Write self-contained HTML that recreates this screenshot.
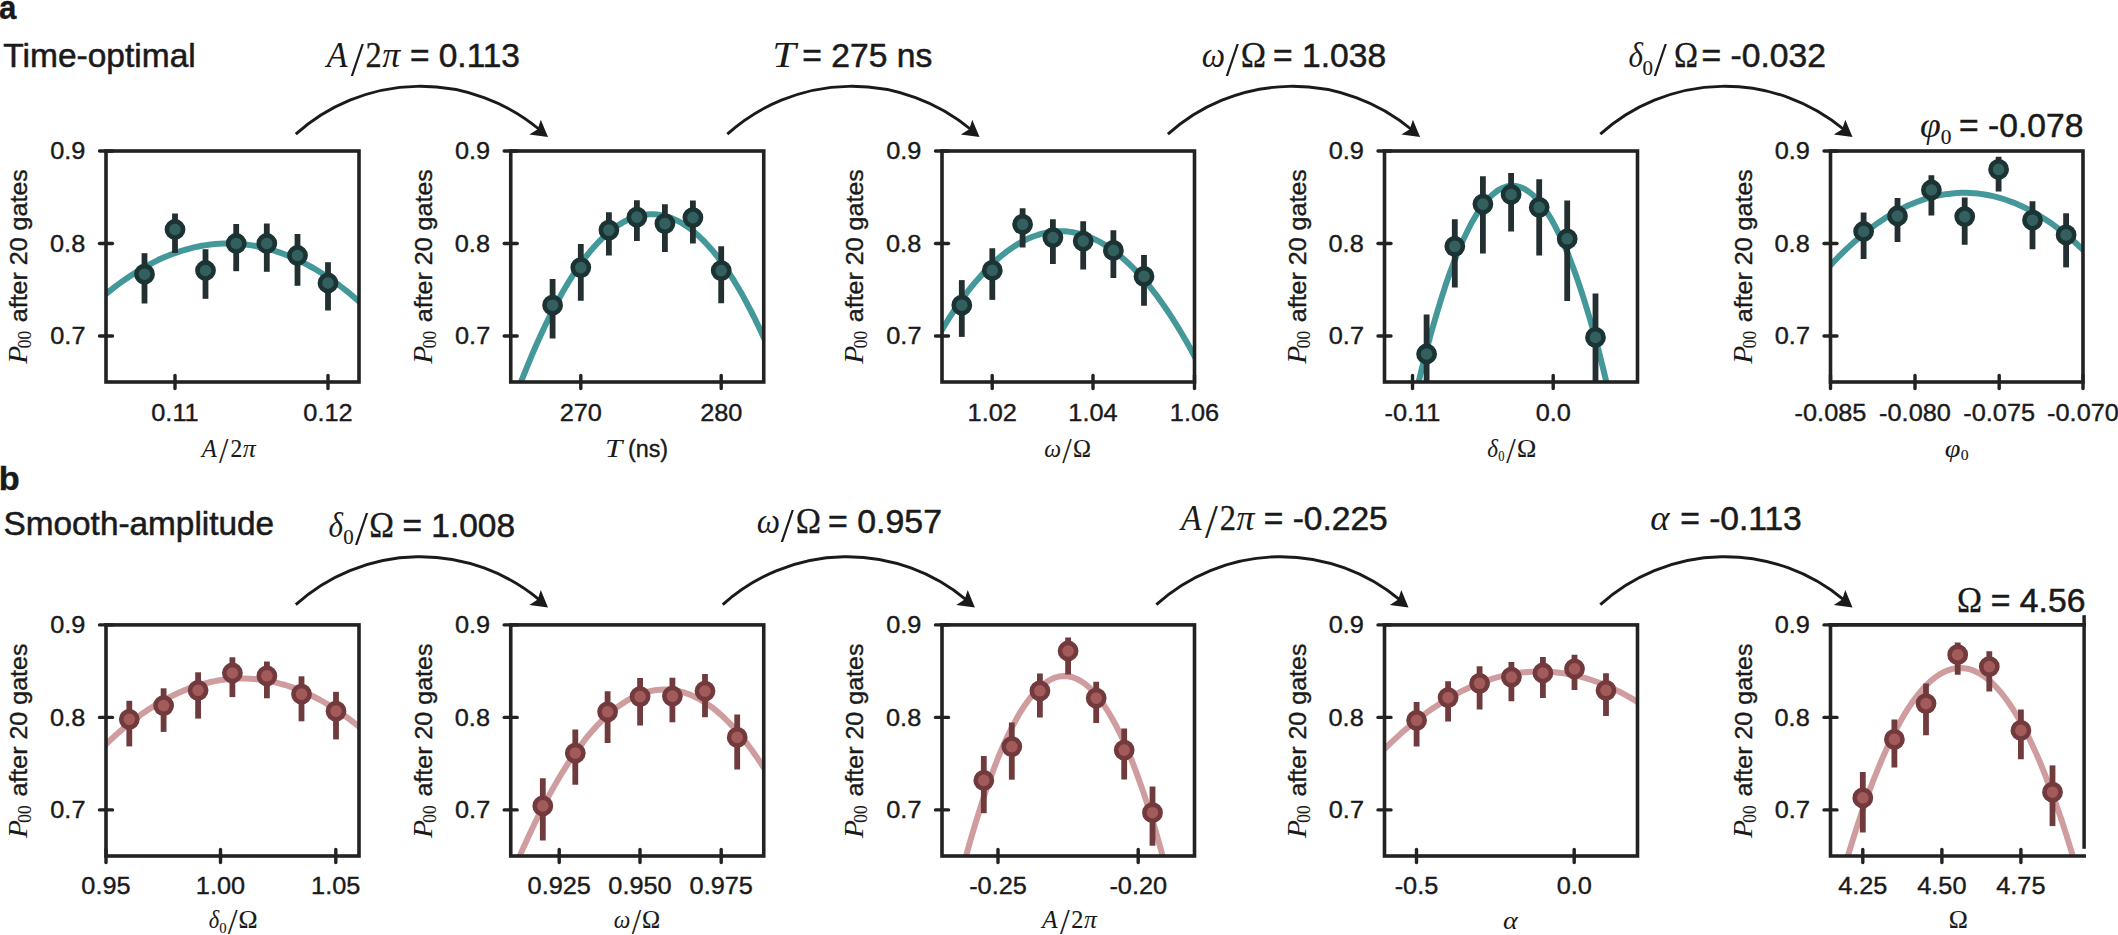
<!DOCTYPE html>
<html><head><meta charset="utf-8"><title>Figure</title>
<style>
html,body{margin:0;padding:0;background:#fff;}
svg{display:block;}
.s{font-family:"Liberation Sans", sans-serif;fill:#1a1a1a;stroke:#1a1a1a;}
.m{font-family:"Liberation Serif", serif;fill:#1a1a1a;stroke:#1a1a1a;}
.i{font-style:italic;}
.b{font-weight:bold;}
</style></head>
<body>
<svg width="2118" height="935" viewBox="0 0 2118 935">
<rect x="0" y="0" width="2118" height="935" fill="#ffffff"/>
<clipPath id="cp0"><rect x="106.00" y="151.00" width="253.00" height="231.00"/></clipPath>
<g clip-path="url(#cp0)">
<path d="M101.0 298.2 L105.4 294.5 L109.8 290.9 L114.2 287.4 L118.5 284.1 L122.9 280.9 L127.3 277.9 L131.7 275.0 L136.1 272.2 L140.4 269.5 L144.8 267.0 L149.2 264.6 L153.6 262.3 L158.0 260.1 L162.4 258.1 L166.8 256.2 L171.1 254.5 L175.5 252.9 L179.9 251.4 L184.3 250.0 L188.7 248.8 L193.1 247.7 L197.4 246.7 L201.8 245.8 L206.2 245.1 L210.6 244.5 L215.0 244.1 L219.3 243.8 L223.7 243.6 L228.1 243.5 L232.5 243.6 L236.9 243.8 L241.3 244.1 L245.7 244.5 L250.0 245.1 L254.4 245.8 L258.8 246.7 L263.2 247.7 L267.6 248.8 L271.9 250.0 L276.3 251.4 L280.7 252.9 L285.1 254.5 L289.5 256.3 L293.9 258.1 L298.2 260.2 L302.6 262.3 L307.0 264.6 L311.4 267.0 L315.8 269.5 L320.2 272.2 L324.6 275.0 L328.9 277.9 L333.3 281.0 L337.7 284.1 L342.1 287.5 L346.5 290.9 L350.9 294.5 L355.2 298.2 L359.6 302.0 L364.0 306.0" fill="none" stroke="#45989a" stroke-width="6" stroke-linejoin="round"/>
<line x1="144.5" y1="253.2" x2="144.5" y2="303.5" stroke="#232f30" stroke-width="5.8"/>
<line x1="175.0" y1="213.5" x2="175.0" y2="253.0" stroke="#232f30" stroke-width="5.8"/>
<line x1="205.5" y1="249.2" x2="205.5" y2="298.8" stroke="#232f30" stroke-width="5.8"/>
<line x1="236.2" y1="224.0" x2="236.2" y2="271.2" stroke="#232f30" stroke-width="5.8"/>
<line x1="266.8" y1="223.5" x2="266.8" y2="271.8" stroke="#232f30" stroke-width="5.8"/>
<line x1="297.5" y1="234.0" x2="297.5" y2="285.8" stroke="#232f30" stroke-width="5.8"/>
<line x1="328.0" y1="262.2" x2="328.0" y2="310.5" stroke="#232f30" stroke-width="5.8"/>
<circle cx="144.5" cy="274.2" r="8.1" fill="#33605f" stroke="#1c3333" stroke-width="4.6"/>
<circle cx="175.0" cy="229.5" r="8.1" fill="#33605f" stroke="#1c3333" stroke-width="4.6"/>
<circle cx="205.5" cy="270.5" r="8.1" fill="#33605f" stroke="#1c3333" stroke-width="4.6"/>
<circle cx="236.2" cy="243.5" r="8.1" fill="#33605f" stroke="#1c3333" stroke-width="4.6"/>
<circle cx="266.8" cy="243.5" r="8.1" fill="#33605f" stroke="#1c3333" stroke-width="4.6"/>
<circle cx="297.5" cy="255.5" r="8.1" fill="#33605f" stroke="#1c3333" stroke-width="4.6"/>
<circle cx="328.0" cy="283.0" r="8.1" fill="#33605f" stroke="#1c3333" stroke-width="4.6"/>
</g>
<rect x="106.00" y="151.00" width="253.00" height="231.00" fill="none" stroke="#222222" stroke-width="3.6"/>
<line x1="99.5" y1="151.0" x2="112.5" y2="151.0" stroke="#222222" stroke-width="3.4" stroke-linecap="round"/>
<text class="s" font-size="24" stroke-width="0.38" transform="translate(50.14 159.40) scale(1.0550 1)">0.9</text>
<line x1="99.5" y1="243.5" x2="112.5" y2="243.5" stroke="#222222" stroke-width="3.4" stroke-linecap="round"/>
<text class="s" font-size="24" stroke-width="0.38" transform="translate(50.02 251.90) scale(1.0550 1)">0.8</text>
<line x1="99.5" y1="336.0" x2="112.5" y2="336.0" stroke="#222222" stroke-width="3.4" stroke-linecap="round"/>
<text class="s" font-size="24" stroke-width="0.38" transform="translate(50.27 344.40) scale(1.0550 1)">0.7</text>
<line x1="175.0" y1="375.5" x2="175.0" y2="388.5" stroke="#222222" stroke-width="3.4" stroke-linecap="round"/>
<text class="s" font-size="24" stroke-width="0.38" transform="translate(151.30 420.80) scale(1.0550 1)">0.11</text>
<line x1="328.0" y1="375.5" x2="328.0" y2="388.5" stroke="#222222" stroke-width="3.4" stroke-linecap="round"/>
<text class="s" font-size="24" stroke-width="0.38" transform="translate(303.36 420.80) scale(1.0550 1)">0.12</text>
<text class="m i" font-size="27.3" stroke-width="0.00" transform="translate(27.00 363.65) rotate(-90) scale(1.0865 1)">P</text>
<text class="m" font-size="18" stroke-width="0.14" transform="translate(31.30 348.30) rotate(-90) scale(0.9662 1)">00</text>
<text class="s" font-size="24" stroke-width="0.38" transform="translate(27.00 322.20) rotate(-90) scale(1.0430 1)">after 20 gates</text>
<clipPath id="cp1"><rect x="510.75" y="151.00" width="253.00" height="231.00"/></clipPath>
<g clip-path="url(#cp1)">
<path d="M505.8 423.4 L510.1 411.0 L514.5 399.0 L518.9 387.4 L523.3 376.1 L527.7 365.3 L532.0 354.8 L536.4 344.7 L540.8 335.0 L545.2 325.6 L549.6 316.6 L554.0 308.0 L558.4 299.8 L562.7 292.0 L567.1 284.5 L571.5 277.4 L575.9 270.7 L580.3 264.3 L584.6 258.4 L589.0 252.8 L593.4 247.6 L597.8 242.8 L602.2 238.3 L606.6 234.2 L611.0 230.6 L615.3 227.2 L619.7 224.3 L624.1 221.7 L628.5 219.5 L632.9 217.7 L637.2 216.3 L641.6 215.2 L646.0 214.6 L650.4 214.3 L654.8 214.3 L659.2 214.8 L663.5 215.6 L667.9 216.8 L672.3 218.4 L676.7 220.4 L681.1 222.7 L685.5 225.4 L689.9 228.5 L694.2 232.0 L698.6 235.9 L703.0 240.1 L707.4 244.7 L711.8 249.7 L716.1 255.0 L720.5 260.8 L724.9 266.9 L729.3 273.4 L733.7 280.2 L738.1 287.5 L742.5 295.1 L746.8 303.1 L751.2 311.5 L755.6 320.2 L760.0 329.4 L764.4 338.9 L768.8 348.7" fill="none" stroke="#45989a" stroke-width="6" stroke-linejoin="round"/>
<line x1="552.6" y1="279.1" x2="552.6" y2="338.4" stroke="#232f30" stroke-width="5.8"/>
<line x1="580.8" y1="244.1" x2="580.8" y2="300.7" stroke="#232f30" stroke-width="5.8"/>
<line x1="608.9" y1="212.3" x2="608.9" y2="255.6" stroke="#232f30" stroke-width="5.8"/>
<line x1="636.9" y1="200.3" x2="636.9" y2="241.1" stroke="#232f30" stroke-width="5.8"/>
<line x1="664.9" y1="204.3" x2="664.9" y2="251.9" stroke="#232f30" stroke-width="5.8"/>
<line x1="692.9" y1="200.6" x2="692.9" y2="243.6" stroke="#232f30" stroke-width="5.8"/>
<line x1="721.2" y1="246.3" x2="721.2" y2="303.2" stroke="#232f30" stroke-width="5.8"/>
<circle cx="552.6" cy="305.2" r="8.1" fill="#33605f" stroke="#1c3333" stroke-width="4.6"/>
<circle cx="580.8" cy="267.6" r="8.1" fill="#33605f" stroke="#1c3333" stroke-width="4.6"/>
<circle cx="608.9" cy="230.1" r="8.1" fill="#33605f" stroke="#1c3333" stroke-width="4.6"/>
<circle cx="636.9" cy="217.1" r="8.1" fill="#33605f" stroke="#1c3333" stroke-width="4.6"/>
<circle cx="664.9" cy="223.6" r="8.1" fill="#33605f" stroke="#1c3333" stroke-width="4.6"/>
<circle cx="692.9" cy="217.6" r="8.1" fill="#33605f" stroke="#1c3333" stroke-width="4.6"/>
<circle cx="721.2" cy="270.6" r="8.1" fill="#33605f" stroke="#1c3333" stroke-width="4.6"/>
</g>
<rect x="510.75" y="151.00" width="253.00" height="231.00" fill="none" stroke="#222222" stroke-width="3.6"/>
<line x1="504.2" y1="151.0" x2="517.2" y2="151.0" stroke="#222222" stroke-width="3.4" stroke-linecap="round"/>
<text class="s" font-size="24" stroke-width="0.38" transform="translate(454.89 159.40) scale(1.0550 1)">0.9</text>
<line x1="504.2" y1="243.5" x2="517.2" y2="243.5" stroke="#222222" stroke-width="3.4" stroke-linecap="round"/>
<text class="s" font-size="24" stroke-width="0.38" transform="translate(454.77 251.90) scale(1.0550 1)">0.8</text>
<line x1="504.2" y1="336.0" x2="517.2" y2="336.0" stroke="#222222" stroke-width="3.4" stroke-linecap="round"/>
<text class="s" font-size="24" stroke-width="0.38" transform="translate(455.02 344.40) scale(1.0550 1)">0.7</text>
<line x1="580.8" y1="375.5" x2="580.8" y2="388.5" stroke="#222222" stroke-width="3.4" stroke-linecap="round"/>
<text class="s" font-size="24" stroke-width="0.38" transform="translate(559.63 420.80) scale(1.0550 1)">270</text>
<line x1="721.2" y1="375.5" x2="721.2" y2="388.5" stroke="#222222" stroke-width="3.4" stroke-linecap="round"/>
<text class="s" font-size="24" stroke-width="0.38" transform="translate(700.13 420.80) scale(1.0550 1)">280</text>
<text class="m i" font-size="27.3" stroke-width="0.00" transform="translate(431.75 363.65) rotate(-90) scale(1.0865 1)">P</text>
<text class="m" font-size="18" stroke-width="0.14" transform="translate(436.05 348.30) rotate(-90) scale(0.9662 1)">00</text>
<text class="s" font-size="24" stroke-width="0.38" transform="translate(431.75 322.20) rotate(-90) scale(1.0430 1)">after 20 gates</text>
<clipPath id="cp2"><rect x="942.00" y="151.00" width="252.50" height="231.00"/></clipPath>
<g clip-path="url(#cp2)">
<path d="M937.0 338.1 L941.4 330.7 L945.8 323.5 L950.1 316.6 L954.5 310.0 L958.9 303.6 L963.2 297.6 L967.6 291.7 L972.0 286.2 L976.4 280.9 L980.8 275.9 L985.1 271.1 L989.5 266.6 L993.9 262.4 L998.2 258.5 L1002.6 254.8 L1007.0 251.4 L1011.4 248.2 L1015.8 245.4 L1020.1 242.7 L1024.5 240.4 L1028.9 238.3 L1033.2 236.5 L1037.6 235.0 L1042.0 233.7 L1046.4 232.7 L1050.8 231.9 L1055.1 231.5 L1059.5 231.3 L1063.9 231.3 L1068.2 231.6 L1072.6 232.2 L1077.0 233.1 L1081.4 234.2 L1085.8 235.6 L1090.1 237.3 L1094.5 239.2 L1098.9 241.4 L1103.2 243.9 L1107.6 246.6 L1112.0 249.6 L1116.4 252.9 L1120.8 256.4 L1125.1 260.2 L1129.5 264.3 L1133.9 268.6 L1138.2 273.2 L1142.6 278.1 L1147.0 283.2 L1151.4 288.7 L1155.8 294.3 L1160.1 300.3 L1164.5 306.5 L1168.9 313.0 L1173.2 319.7 L1177.6 326.7 L1182.0 334.0 L1186.4 341.5 L1190.8 349.3 L1195.1 357.4 L1199.5 365.8" fill="none" stroke="#45989a" stroke-width="6" stroke-linejoin="round"/>
<line x1="961.8" y1="280.1" x2="961.8" y2="336.9" stroke="#232f30" stroke-width="5.8"/>
<line x1="992.3" y1="248.3" x2="992.3" y2="299.9" stroke="#232f30" stroke-width="5.8"/>
<line x1="1022.6" y1="208.3" x2="1022.6" y2="247.6" stroke="#232f30" stroke-width="5.8"/>
<line x1="1052.9" y1="219.3" x2="1052.9" y2="264.1" stroke="#232f30" stroke-width="5.8"/>
<line x1="1083.2" y1="221.3" x2="1083.2" y2="269.6" stroke="#232f30" stroke-width="5.8"/>
<line x1="1113.4" y1="230.3" x2="1113.4" y2="278.1" stroke="#232f30" stroke-width="5.8"/>
<line x1="1144.0" y1="254.9" x2="1144.0" y2="305.7" stroke="#232f30" stroke-width="5.8"/>
<circle cx="961.8" cy="305.2" r="8.1" fill="#33605f" stroke="#1c3333" stroke-width="4.6"/>
<circle cx="992.3" cy="270.4" r="8.1" fill="#33605f" stroke="#1c3333" stroke-width="4.6"/>
<circle cx="1022.6" cy="224.3" r="8.1" fill="#33605f" stroke="#1c3333" stroke-width="4.6"/>
<circle cx="1052.9" cy="237.6" r="8.1" fill="#33605f" stroke="#1c3333" stroke-width="4.6"/>
<circle cx="1083.2" cy="241.1" r="8.1" fill="#33605f" stroke="#1c3333" stroke-width="4.6"/>
<circle cx="1113.4" cy="250.4" r="8.1" fill="#33605f" stroke="#1c3333" stroke-width="4.6"/>
<circle cx="1144.0" cy="276.4" r="8.1" fill="#33605f" stroke="#1c3333" stroke-width="4.6"/>
</g>
<rect x="942.00" y="151.00" width="252.50" height="231.00" fill="none" stroke="#222222" stroke-width="3.6"/>
<line x1="935.5" y1="151.0" x2="948.5" y2="151.0" stroke="#222222" stroke-width="3.4" stroke-linecap="round"/>
<text class="s" font-size="24" stroke-width="0.38" transform="translate(886.14 159.40) scale(1.0550 1)">0.9</text>
<line x1="935.5" y1="243.5" x2="948.5" y2="243.5" stroke="#222222" stroke-width="3.4" stroke-linecap="round"/>
<text class="s" font-size="24" stroke-width="0.38" transform="translate(886.02 251.90) scale(1.0550 1)">0.8</text>
<line x1="935.5" y1="336.0" x2="948.5" y2="336.0" stroke="#222222" stroke-width="3.4" stroke-linecap="round"/>
<text class="s" font-size="24" stroke-width="0.38" transform="translate(886.27 344.40) scale(1.0550 1)">0.7</text>
<line x1="992.2" y1="375.5" x2="992.2" y2="388.5" stroke="#222222" stroke-width="3.4" stroke-linecap="round"/>
<text class="s" font-size="24" stroke-width="0.38" transform="translate(967.61 420.80) scale(1.0550 1)">1.02</text>
<line x1="1093.0" y1="375.5" x2="1093.0" y2="388.5" stroke="#222222" stroke-width="3.4" stroke-linecap="round"/>
<text class="s" font-size="24" stroke-width="0.38" transform="translate(1068.36 420.80) scale(1.0550 1)">1.04</text>
<line x1="1194.5" y1="375.5" x2="1194.5" y2="388.5" stroke="#222222" stroke-width="3.4" stroke-linecap="round"/>
<text class="s" font-size="24" stroke-width="0.38" transform="translate(1169.86 420.80) scale(1.0550 1)">1.06</text>
<text class="m i" font-size="27.3" stroke-width="0.00" transform="translate(863.00 363.65) rotate(-90) scale(1.0865 1)">P</text>
<text class="m" font-size="18" stroke-width="0.14" transform="translate(867.30 348.30) rotate(-90) scale(0.9662 1)">00</text>
<text class="s" font-size="24" stroke-width="0.38" transform="translate(863.00 322.20) rotate(-90) scale(1.0430 1)">after 20 gates</text>
<clipPath id="cp3"><rect x="1384.50" y="151.00" width="253.00" height="231.00"/></clipPath>
<g clip-path="url(#cp3)">
<path d="M1379.5 579.2 L1383.9 553.6 L1388.3 529.0 L1392.7 505.2 L1397.0 482.3 L1401.4 460.2 L1405.8 438.9 L1410.2 418.6 L1414.6 399.1 L1419.0 380.4 L1423.3 362.6 L1427.7 345.6 L1432.1 329.5 L1436.5 314.3 L1440.9 299.9 L1445.2 286.3 L1449.6 273.6 L1454.0 261.8 L1458.4 250.8 L1462.8 240.7 L1467.2 231.5 L1471.5 223.0 L1475.9 215.5 L1480.3 208.8 L1484.7 202.9 L1489.1 197.9 L1493.5 193.8 L1497.8 190.5 L1502.2 188.1 L1506.6 186.5 L1511.0 185.8 L1515.4 185.9 L1519.8 186.9 L1524.2 188.8 L1528.5 191.5 L1532.9 195.0 L1537.3 199.4 L1541.7 204.7 L1546.1 210.8 L1550.5 217.8 L1554.8 225.6 L1559.2 234.3 L1563.6 243.8 L1568.0 254.2 L1572.4 265.5 L1576.8 277.6 L1581.1 290.5 L1585.5 304.3 L1589.9 319.0 L1594.3 334.5 L1598.7 350.9 L1603.0 368.1 L1607.4 386.2 L1611.8 405.1 L1616.2 424.9 L1620.6 445.6 L1625.0 467.1 L1629.3 489.4 L1633.7 512.6 L1638.1 536.7 L1642.5 561.6" fill="none" stroke="#45989a" stroke-width="6" stroke-linejoin="round"/>
<line x1="1426.6" y1="314.4" x2="1426.6" y2="400.3" stroke="#232f30" stroke-width="5.8"/>
<line x1="1454.8" y1="219.3" x2="1454.8" y2="287.6" stroke="#232f30" stroke-width="5.8"/>
<line x1="1482.9" y1="176.3" x2="1482.9" y2="253.4" stroke="#232f30" stroke-width="5.8"/>
<line x1="1511.1" y1="173.0" x2="1511.1" y2="231.6" stroke="#232f30" stroke-width="5.8"/>
<line x1="1539.2" y1="179.3" x2="1539.2" y2="255.6" stroke="#232f30" stroke-width="5.8"/>
<line x1="1567.2" y1="200.6" x2="1567.2" y2="300.9" stroke="#232f30" stroke-width="5.8"/>
<line x1="1595.5" y1="293.4" x2="1595.5" y2="400.3" stroke="#232f30" stroke-width="5.8"/>
<circle cx="1426.6" cy="354.0" r="8.1" fill="#33605f" stroke="#1c3333" stroke-width="4.6"/>
<circle cx="1454.8" cy="246.3" r="8.1" fill="#33605f" stroke="#1c3333" stroke-width="4.6"/>
<circle cx="1482.9" cy="204.1" r="8.1" fill="#33605f" stroke="#1c3333" stroke-width="4.6"/>
<circle cx="1511.1" cy="194.5" r="8.1" fill="#33605f" stroke="#1c3333" stroke-width="4.6"/>
<circle cx="1539.2" cy="207.3" r="8.1" fill="#33605f" stroke="#1c3333" stroke-width="4.6"/>
<circle cx="1567.2" cy="238.8" r="8.1" fill="#33605f" stroke="#1c3333" stroke-width="4.6"/>
<circle cx="1595.5" cy="337.4" r="8.1" fill="#33605f" stroke="#1c3333" stroke-width="4.6"/>
</g>
<rect x="1384.50" y="151.00" width="253.00" height="231.00" fill="none" stroke="#222222" stroke-width="3.6"/>
<line x1="1378.0" y1="151.0" x2="1391.0" y2="151.0" stroke="#222222" stroke-width="3.4" stroke-linecap="round"/>
<text class="s" font-size="24" stroke-width="0.38" transform="translate(1328.64 159.40) scale(1.0550 1)">0.9</text>
<line x1="1378.0" y1="243.5" x2="1391.0" y2="243.5" stroke="#222222" stroke-width="3.4" stroke-linecap="round"/>
<text class="s" font-size="24" stroke-width="0.38" transform="translate(1328.52 251.90) scale(1.0550 1)">0.8</text>
<line x1="1378.0" y1="336.0" x2="1391.0" y2="336.0" stroke="#222222" stroke-width="3.4" stroke-linecap="round"/>
<text class="s" font-size="24" stroke-width="0.38" transform="translate(1328.77 344.40) scale(1.0550 1)">0.7</text>
<line x1="1412.5" y1="375.5" x2="1412.5" y2="388.5" stroke="#222222" stroke-width="3.4" stroke-linecap="round"/>
<text class="s" font-size="24" stroke-width="0.38" transform="translate(1384.58 420.80) scale(1.0550 1)">-0.11</text>
<line x1="1553.2" y1="375.5" x2="1553.2" y2="388.5" stroke="#222222" stroke-width="3.4" stroke-linecap="round"/>
<text class="s" font-size="24" stroke-width="0.38" transform="translate(1535.65 420.80) scale(1.0550 1)">0.0</text>
<text class="m i" font-size="27.3" stroke-width="0.00" transform="translate(1305.50 363.65) rotate(-90) scale(1.0865 1)">P</text>
<text class="m" font-size="18" stroke-width="0.14" transform="translate(1309.80 348.30) rotate(-90) scale(0.9662 1)">00</text>
<text class="s" font-size="24" stroke-width="0.38" transform="translate(1305.50 322.20) rotate(-90) scale(1.0430 1)">after 20 gates</text>
<clipPath id="cp4"><rect x="1830.50" y="151.00" width="252.50" height="231.00"/></clipPath>
<g clip-path="url(#cp4)">
<path d="M1825.5 270.8 L1829.9 265.9 L1834.2 261.3 L1838.6 256.7 L1843.0 252.4 L1847.4 248.1 L1851.8 244.1 L1856.1 240.2 L1860.5 236.4 L1864.9 232.8 L1869.2 229.4 L1873.6 226.1 L1878.0 222.9 L1882.4 220.0 L1886.8 217.1 L1891.1 214.5 L1895.5 212.0 L1899.9 209.6 L1904.2 207.4 L1908.6 205.3 L1913.0 203.5 L1917.4 201.7 L1921.8 200.1 L1926.1 198.7 L1930.5 197.4 L1934.9 196.3 L1939.2 195.3 L1943.6 194.5 L1948.0 193.9 L1952.4 193.4 L1956.8 193.0 L1961.1 192.8 L1965.5 192.8 L1969.9 192.9 L1974.2 193.2 L1978.6 193.6 L1983.0 194.2 L1987.4 195.0 L1991.8 195.9 L1996.1 196.9 L2000.5 198.1 L2004.9 199.5 L2009.2 201.0 L2013.6 202.6 L2018.0 204.5 L2022.4 206.5 L2026.8 208.6 L2031.1 210.9 L2035.5 213.3 L2039.9 215.9 L2044.2 218.7 L2048.6 221.6 L2053.0 224.6 L2057.4 227.9 L2061.8 231.2 L2066.1 234.8 L2070.5 238.5 L2074.9 242.3 L2079.2 246.3 L2083.6 250.4 L2088.0 254.7" fill="none" stroke="#45989a" stroke-width="6" stroke-linejoin="round"/>
<line x1="1863.6" y1="212.6" x2="1863.6" y2="258.9" stroke="#232f30" stroke-width="5.8"/>
<line x1="1897.5" y1="197.9" x2="1897.5" y2="242.0" stroke="#232f30" stroke-width="5.8"/>
<line x1="1931.4" y1="175.3" x2="1931.4" y2="215.4" stroke="#232f30" stroke-width="5.8"/>
<line x1="1964.7" y1="197.6" x2="1964.7" y2="244.8" stroke="#232f30" stroke-width="5.8"/>
<line x1="1998.6" y1="156.7" x2="1998.6" y2="191.4" stroke="#232f30" stroke-width="5.8"/>
<line x1="2032.5" y1="201.3" x2="2032.5" y2="249.3" stroke="#232f30" stroke-width="5.8"/>
<line x1="2066.1" y1="213.2" x2="2066.1" y2="267.4" stroke="#232f30" stroke-width="5.8"/>
<circle cx="1863.6" cy="231.5" r="8.1" fill="#33605f" stroke="#1c3333" stroke-width="4.6"/>
<circle cx="1897.5" cy="216.0" r="8.1" fill="#33605f" stroke="#1c3333" stroke-width="4.6"/>
<circle cx="1931.4" cy="190.0" r="8.1" fill="#33605f" stroke="#1c3333" stroke-width="4.6"/>
<circle cx="1964.7" cy="216.6" r="8.1" fill="#33605f" stroke="#1c3333" stroke-width="4.6"/>
<circle cx="1998.6" cy="169.4" r="8.1" fill="#33605f" stroke="#1c3333" stroke-width="4.6"/>
<circle cx="2032.5" cy="220.2" r="8.1" fill="#33605f" stroke="#1c3333" stroke-width="4.6"/>
<circle cx="2066.1" cy="234.9" r="8.1" fill="#33605f" stroke="#1c3333" stroke-width="4.6"/>
</g>
<rect x="1830.50" y="151.00" width="252.50" height="231.00" fill="none" stroke="#222222" stroke-width="3.6"/>
<line x1="1824.0" y1="151.0" x2="1837.0" y2="151.0" stroke="#222222" stroke-width="3.4" stroke-linecap="round"/>
<text class="s" font-size="24" stroke-width="0.38" transform="translate(1774.64 159.40) scale(1.0550 1)">0.9</text>
<line x1="1824.0" y1="243.5" x2="1837.0" y2="243.5" stroke="#222222" stroke-width="3.4" stroke-linecap="round"/>
<text class="s" font-size="24" stroke-width="0.38" transform="translate(1774.52 251.90) scale(1.0550 1)">0.8</text>
<line x1="1824.0" y1="336.0" x2="1837.0" y2="336.0" stroke="#222222" stroke-width="3.4" stroke-linecap="round"/>
<text class="s" font-size="24" stroke-width="0.38" transform="translate(1774.77 344.40) scale(1.0550 1)">0.7</text>
<line x1="1830.5" y1="375.5" x2="1830.5" y2="388.5" stroke="#222222" stroke-width="3.4" stroke-linecap="round"/>
<text class="s" font-size="24" stroke-width="0.38" transform="translate(1794.60 420.80) scale(1.0550 1)">-0.085</text>
<line x1="1915.0" y1="375.5" x2="1915.0" y2="388.5" stroke="#222222" stroke-width="3.4" stroke-linecap="round"/>
<text class="s" font-size="24" stroke-width="0.38" transform="translate(1879.10 420.80) scale(1.0550 1)">-0.080</text>
<line x1="1999.2" y1="375.5" x2="1999.2" y2="388.5" stroke="#222222" stroke-width="3.4" stroke-linecap="round"/>
<text class="s" font-size="24" stroke-width="0.38" transform="translate(1963.30 420.80) scale(1.0550 1)">-0.075</text>
<line x1="2083.0" y1="375.5" x2="2083.0" y2="388.5" stroke="#222222" stroke-width="3.4" stroke-linecap="round"/>
<text class="s" font-size="24" stroke-width="0.38" transform="translate(2047.10 420.80) scale(1.0550 1)">-0.070</text>
<text class="m i" font-size="27.3" stroke-width="0.00" transform="translate(1751.50 363.65) rotate(-90) scale(1.0865 1)">P</text>
<text class="m" font-size="18" stroke-width="0.14" transform="translate(1755.80 348.30) rotate(-90) scale(0.9662 1)">00</text>
<text class="s" font-size="24" stroke-width="0.38" transform="translate(1751.50 322.20) rotate(-90) scale(1.0430 1)">after 20 gates</text>
<clipPath id="cp5"><rect x="106.00" y="624.90" width="253.00" height="231.10"/></clipPath>
<g clip-path="url(#cp5)">
<path d="M101.0 749.1 L105.4 744.8 L109.8 740.6 L114.2 736.5 L118.5 732.6 L122.9 728.9 L127.3 725.2 L131.7 721.7 L136.1 718.4 L140.4 715.1 L144.8 712.1 L149.2 709.1 L153.6 706.3 L158.0 703.6 L162.4 701.1 L166.8 698.7 L171.1 696.4 L175.5 694.2 L179.9 692.2 L184.3 690.4 L188.7 688.6 L193.1 687.1 L197.4 685.6 L201.8 684.3 L206.2 683.1 L210.6 682.0 L215.0 681.1 L219.3 680.3 L223.7 679.7 L228.1 679.2 L232.5 678.8 L236.9 678.6 L241.3 678.5 L245.7 678.5 L250.0 678.7 L254.4 679.0 L258.8 679.5 L263.2 680.1 L267.6 680.8 L271.9 681.6 L276.3 682.6 L280.7 683.8 L285.1 685.0 L289.5 686.4 L293.9 687.9 L298.2 689.6 L302.6 691.4 L307.0 693.4 L311.4 695.5 L315.8 697.7 L320.2 700.0 L324.6 702.5 L328.9 705.1 L333.3 707.9 L337.7 710.8 L342.1 713.8 L346.5 717.0 L350.9 720.3 L355.2 723.7 L359.6 727.3 L364.0 731.0" fill="none" stroke="#cf9d9f" stroke-width="6" stroke-linejoin="round"/>
<line x1="129.3" y1="700.8" x2="129.3" y2="746.4" stroke="#6f3b3d" stroke-width="5.8"/>
<line x1="163.6" y1="688.3" x2="163.6" y2="731.9" stroke="#6f3b3d" stroke-width="5.8"/>
<line x1="198.1" y1="672.3" x2="198.1" y2="718.6" stroke="#6f3b3d" stroke-width="5.8"/>
<line x1="232.4" y1="657.3" x2="232.4" y2="697.1" stroke="#6f3b3d" stroke-width="5.8"/>
<line x1="266.9" y1="661.5" x2="266.9" y2="698.3" stroke="#6f3b3d" stroke-width="5.8"/>
<line x1="301.5" y1="676.3" x2="301.5" y2="721.3" stroke="#6f3b3d" stroke-width="5.8"/>
<line x1="336.0" y1="691.8" x2="336.0" y2="739.4" stroke="#6f3b3d" stroke-width="5.8"/>
<circle cx="129.3" cy="719.3" r="8.1" fill="#a35a5a" stroke="#723a3c" stroke-width="4.6"/>
<circle cx="163.6" cy="705.6" r="8.1" fill="#a35a5a" stroke="#723a3c" stroke-width="4.6"/>
<circle cx="198.1" cy="690.3" r="8.1" fill="#a35a5a" stroke="#723a3c" stroke-width="4.6"/>
<circle cx="232.4" cy="673.0" r="8.1" fill="#a35a5a" stroke="#723a3c" stroke-width="4.6"/>
<circle cx="266.9" cy="675.8" r="8.1" fill="#a35a5a" stroke="#723a3c" stroke-width="4.6"/>
<circle cx="301.5" cy="694.1" r="8.1" fill="#a35a5a" stroke="#723a3c" stroke-width="4.6"/>
<circle cx="336.0" cy="711.1" r="8.1" fill="#a35a5a" stroke="#723a3c" stroke-width="4.6"/>
</g>
<rect x="106.00" y="624.90" width="253.00" height="231.10" fill="none" stroke="#222222" stroke-width="3.6"/>
<line x1="99.5" y1="624.9" x2="112.5" y2="624.9" stroke="#222222" stroke-width="3.4" stroke-linecap="round"/>
<text class="s" font-size="24" stroke-width="0.38" transform="translate(50.14 633.30) scale(1.0550 1)">0.9</text>
<line x1="99.5" y1="717.4" x2="112.5" y2="717.4" stroke="#222222" stroke-width="3.4" stroke-linecap="round"/>
<text class="s" font-size="24" stroke-width="0.38" transform="translate(50.02 725.80) scale(1.0550 1)">0.8</text>
<line x1="99.5" y1="809.9" x2="112.5" y2="809.9" stroke="#222222" stroke-width="3.4" stroke-linecap="round"/>
<text class="s" font-size="24" stroke-width="0.38" transform="translate(50.27 818.30) scale(1.0550 1)">0.7</text>
<line x1="106.0" y1="849.5" x2="106.0" y2="862.5" stroke="#222222" stroke-width="3.4" stroke-linecap="round"/>
<text class="s" font-size="24" stroke-width="0.38" transform="translate(81.36 894.20) scale(1.0550 1)">0.95</text>
<line x1="220.5" y1="849.5" x2="220.5" y2="862.5" stroke="#222222" stroke-width="3.4" stroke-linecap="round"/>
<text class="s" font-size="24" stroke-width="0.38" transform="translate(195.86 894.20) scale(1.0550 1)">1.00</text>
<line x1="335.8" y1="849.5" x2="335.8" y2="862.5" stroke="#222222" stroke-width="3.4" stroke-linecap="round"/>
<text class="s" font-size="24" stroke-width="0.38" transform="translate(311.11 894.20) scale(1.0550 1)">1.05</text>
<text class="m i" font-size="27.3" stroke-width="0.00" transform="translate(27.00 838.05) rotate(-90) scale(1.0865 1)">P</text>
<text class="m" font-size="18" stroke-width="0.14" transform="translate(31.30 822.70) rotate(-90) scale(0.9662 1)">00</text>
<text class="s" font-size="24" stroke-width="0.38" transform="translate(27.00 796.60) rotate(-90) scale(1.0430 1)">after 20 gates</text>
<clipPath id="cp6"><rect x="510.75" y="624.90" width="253.00" height="231.10"/></clipPath>
<g clip-path="url(#cp6)">
<path d="M505.8 889.7 L510.1 878.8 L514.5 868.2 L518.9 857.9 L523.3 847.9 L527.7 838.2 L532.0 828.9 L536.4 819.8 L540.8 811.0 L545.2 802.6 L549.6 794.4 L554.0 786.6 L558.4 779.0 L562.7 771.8 L567.1 764.8 L571.5 758.2 L575.9 751.9 L580.3 745.9 L584.6 740.2 L589.0 734.7 L593.4 729.6 L597.8 724.8 L602.2 720.3 L606.6 716.2 L611.0 712.3 L615.3 708.7 L619.7 705.4 L624.1 702.5 L628.5 699.8 L632.9 697.4 L637.2 695.4 L641.6 693.7 L646.0 692.2 L650.4 691.1 L654.8 690.3 L659.2 689.7 L663.5 689.5 L667.9 689.6 L672.3 690.0 L676.7 690.7 L681.1 691.7 L685.5 693.0 L689.9 694.6 L694.2 696.5 L698.6 698.7 L703.0 701.3 L707.4 704.1 L711.8 707.2 L716.1 710.7 L720.5 714.4 L724.9 718.5 L729.3 722.9 L733.7 727.5 L738.1 732.5 L742.5 737.8 L746.8 743.4 L751.2 749.2 L755.6 755.4 L760.0 761.9 L764.4 768.7 L768.8 775.8" fill="none" stroke="#cf9d9f" stroke-width="6" stroke-linejoin="round"/>
<line x1="542.8" y1="778.2" x2="542.8" y2="840.5" stroke="#6f3b3d" stroke-width="5.8"/>
<line x1="575.3" y1="729.4" x2="575.3" y2="784.7" stroke="#6f3b3d" stroke-width="5.8"/>
<line x1="607.6" y1="691.3" x2="607.6" y2="742.9" stroke="#6f3b3d" stroke-width="5.8"/>
<line x1="640.1" y1="678.1" x2="640.1" y2="725.6" stroke="#6f3b3d" stroke-width="5.8"/>
<line x1="672.4" y1="677.8" x2="672.4" y2="722.3" stroke="#6f3b3d" stroke-width="5.8"/>
<line x1="705.0" y1="674.1" x2="705.0" y2="717.3" stroke="#6f3b3d" stroke-width="5.8"/>
<line x1="737.2" y1="714.6" x2="737.2" y2="769.4" stroke="#6f3b3d" stroke-width="5.8"/>
<circle cx="542.8" cy="805.9" r="8.1" fill="#a35a5a" stroke="#723a3c" stroke-width="4.6"/>
<circle cx="575.3" cy="753.1" r="8.1" fill="#a35a5a" stroke="#723a3c" stroke-width="4.6"/>
<circle cx="607.6" cy="711.8" r="8.1" fill="#a35a5a" stroke="#723a3c" stroke-width="4.6"/>
<circle cx="640.1" cy="696.6" r="8.1" fill="#a35a5a" stroke="#723a3c" stroke-width="4.6"/>
<circle cx="672.4" cy="696.1" r="8.1" fill="#a35a5a" stroke="#723a3c" stroke-width="4.6"/>
<circle cx="705.0" cy="691.1" r="8.1" fill="#a35a5a" stroke="#723a3c" stroke-width="4.6"/>
<circle cx="737.2" cy="737.4" r="8.1" fill="#a35a5a" stroke="#723a3c" stroke-width="4.6"/>
</g>
<rect x="510.75" y="624.90" width="253.00" height="231.10" fill="none" stroke="#222222" stroke-width="3.6"/>
<line x1="504.2" y1="624.9" x2="517.2" y2="624.9" stroke="#222222" stroke-width="3.4" stroke-linecap="round"/>
<text class="s" font-size="24" stroke-width="0.38" transform="translate(454.89 633.30) scale(1.0550 1)">0.9</text>
<line x1="504.2" y1="717.4" x2="517.2" y2="717.4" stroke="#222222" stroke-width="3.4" stroke-linecap="round"/>
<text class="s" font-size="24" stroke-width="0.38" transform="translate(454.77 725.80) scale(1.0550 1)">0.8</text>
<line x1="504.2" y1="809.9" x2="517.2" y2="809.9" stroke="#222222" stroke-width="3.4" stroke-linecap="round"/>
<text class="s" font-size="24" stroke-width="0.38" transform="translate(455.02 818.30) scale(1.0550 1)">0.7</text>
<line x1="559.2" y1="849.5" x2="559.2" y2="862.5" stroke="#222222" stroke-width="3.4" stroke-linecap="round"/>
<text class="s" font-size="24" stroke-width="0.38" transform="translate(527.57 894.20) scale(1.0550 1)">0.925</text>
<line x1="640.0" y1="849.5" x2="640.0" y2="862.5" stroke="#222222" stroke-width="3.4" stroke-linecap="round"/>
<text class="s" font-size="24" stroke-width="0.38" transform="translate(608.32 894.20) scale(1.0550 1)">0.950</text>
<line x1="721.2" y1="849.5" x2="721.2" y2="862.5" stroke="#222222" stroke-width="3.4" stroke-linecap="round"/>
<text class="s" font-size="24" stroke-width="0.38" transform="translate(689.57 894.20) scale(1.0550 1)">0.975</text>
<text class="m i" font-size="27.3" stroke-width="0.00" transform="translate(431.75 838.05) rotate(-90) scale(1.0865 1)">P</text>
<text class="m" font-size="18" stroke-width="0.14" transform="translate(436.05 822.70) rotate(-90) scale(0.9662 1)">00</text>
<text class="s" font-size="24" stroke-width="0.38" transform="translate(431.75 796.60) rotate(-90) scale(1.0430 1)">after 20 gates</text>
<clipPath id="cp7"><rect x="942.00" y="624.90" width="252.50" height="231.10"/></clipPath>
<g clip-path="url(#cp7)">
<path d="M937.0 978.3 L941.4 957.9 L945.8 938.2 L950.1 919.2 L954.5 901.0 L958.9 883.4 L963.2 866.6 L967.6 850.4 L972.0 835.0 L976.4 820.3 L980.8 806.3 L985.1 793.0 L989.5 780.5 L993.9 768.6 L998.2 757.5 L1002.6 747.1 L1007.0 737.4 L1011.4 728.4 L1015.8 720.1 L1020.1 712.5 L1024.5 705.7 L1028.9 699.5 L1033.2 694.1 L1037.6 689.4 L1042.0 685.3 L1046.4 682.1 L1050.8 679.5 L1055.1 677.6 L1059.5 676.4 L1063.9 676.0 L1068.2 676.3 L1072.6 677.3 L1077.0 679.0 L1081.4 681.4 L1085.8 684.5 L1090.1 688.3 L1094.5 692.9 L1098.9 698.1 L1103.2 704.1 L1107.6 710.8 L1112.0 718.2 L1116.4 726.3 L1120.8 735.1 L1125.1 744.7 L1129.5 754.9 L1133.9 765.9 L1138.2 777.6 L1142.6 790.0 L1147.0 803.1 L1151.4 816.9 L1155.8 831.4 L1160.1 846.7 L1164.5 862.6 L1168.9 879.3 L1173.2 896.7 L1177.6 914.8 L1182.0 933.6 L1186.4 953.1 L1190.8 973.3 L1195.1 994.3 L1199.5 1015.9" fill="none" stroke="#cf9d9f" stroke-width="6" stroke-linejoin="round"/>
<line x1="983.8" y1="755.9" x2="983.8" y2="813.2" stroke="#6f3b3d" stroke-width="5.8"/>
<line x1="1011.8" y1="722.6" x2="1011.8" y2="779.7" stroke="#6f3b3d" stroke-width="5.8"/>
<line x1="1039.9" y1="673.5" x2="1039.9" y2="717.6" stroke="#6f3b3d" stroke-width="5.8"/>
<line x1="1068.1" y1="637.5" x2="1068.1" y2="674.6" stroke="#6f3b3d" stroke-width="5.8"/>
<line x1="1096.2" y1="681.8" x2="1096.2" y2="723.1" stroke="#6f3b3d" stroke-width="5.8"/>
<line x1="1124.2" y1="728.6" x2="1124.2" y2="779.4" stroke="#6f3b3d" stroke-width="5.8"/>
<line x1="1152.5" y1="786.4" x2="1152.5" y2="845.7" stroke="#6f3b3d" stroke-width="5.8"/>
<circle cx="983.8" cy="780.4" r="8.1" fill="#a35a5a" stroke="#723a3c" stroke-width="4.6"/>
<circle cx="1011.8" cy="746.6" r="8.1" fill="#a35a5a" stroke="#723a3c" stroke-width="4.6"/>
<circle cx="1039.9" cy="690.8" r="8.1" fill="#a35a5a" stroke="#723a3c" stroke-width="4.6"/>
<circle cx="1068.1" cy="651.0" r="8.1" fill="#a35a5a" stroke="#723a3c" stroke-width="4.6"/>
<circle cx="1096.2" cy="698.1" r="8.1" fill="#a35a5a" stroke="#723a3c" stroke-width="4.6"/>
<circle cx="1124.2" cy="750.1" r="8.1" fill="#a35a5a" stroke="#723a3c" stroke-width="4.6"/>
<circle cx="1152.5" cy="812.7" r="8.1" fill="#a35a5a" stroke="#723a3c" stroke-width="4.6"/>
</g>
<rect x="942.00" y="624.90" width="252.50" height="231.10" fill="none" stroke="#222222" stroke-width="3.6"/>
<line x1="935.5" y1="624.9" x2="948.5" y2="624.9" stroke="#222222" stroke-width="3.4" stroke-linecap="round"/>
<text class="s" font-size="24" stroke-width="0.38" transform="translate(886.14 633.30) scale(1.0550 1)">0.9</text>
<line x1="935.5" y1="717.4" x2="948.5" y2="717.4" stroke="#222222" stroke-width="3.4" stroke-linecap="round"/>
<text class="s" font-size="24" stroke-width="0.38" transform="translate(886.02 725.80) scale(1.0550 1)">0.8</text>
<line x1="935.5" y1="809.9" x2="948.5" y2="809.9" stroke="#222222" stroke-width="3.4" stroke-linecap="round"/>
<text class="s" font-size="24" stroke-width="0.38" transform="translate(886.27 818.30) scale(1.0550 1)">0.7</text>
<line x1="998.0" y1="849.5" x2="998.0" y2="862.5" stroke="#222222" stroke-width="3.4" stroke-linecap="round"/>
<text class="s" font-size="24" stroke-width="0.38" transform="translate(969.14 894.20) scale(1.0550 1)">-0.25</text>
<line x1="1138.2" y1="849.5" x2="1138.2" y2="862.5" stroke="#222222" stroke-width="3.4" stroke-linecap="round"/>
<text class="s" font-size="24" stroke-width="0.38" transform="translate(1109.39 894.20) scale(1.0550 1)">-0.20</text>
<text class="m i" font-size="27.3" stroke-width="0.00" transform="translate(863.00 838.05) rotate(-90) scale(1.0865 1)">P</text>
<text class="m" font-size="18" stroke-width="0.14" transform="translate(867.30 822.70) rotate(-90) scale(0.9662 1)">00</text>
<text class="s" font-size="24" stroke-width="0.38" transform="translate(863.00 796.60) rotate(-90) scale(1.0430 1)">after 20 gates</text>
<clipPath id="cp8"><rect x="1384.50" y="624.90" width="253.00" height="231.10"/></clipPath>
<g clip-path="url(#cp8)">
<path d="M1379.5 754.1 L1383.9 749.7 L1388.3 745.4 L1392.7 741.2 L1397.0 737.1 L1401.4 733.1 L1405.8 729.3 L1410.2 725.6 L1414.6 722.0 L1419.0 718.5 L1423.3 715.2 L1427.7 711.9 L1432.1 708.8 L1436.5 705.9 L1440.9 703.0 L1445.2 700.3 L1449.6 697.7 L1454.0 695.2 L1458.4 692.9 L1462.8 690.6 L1467.2 688.5 L1471.5 686.5 L1475.9 684.7 L1480.3 682.9 L1484.7 681.3 L1489.1 679.8 L1493.5 678.4 L1497.8 677.2 L1502.2 676.1 L1506.6 675.1 L1511.0 674.2 L1515.4 673.4 L1519.8 672.8 L1524.2 672.3 L1528.5 671.9 L1532.9 671.7 L1537.3 671.5 L1541.7 671.5 L1546.1 671.6 L1550.5 671.9 L1554.8 672.2 L1559.2 672.7 L1563.6 673.3 L1568.0 674.0 L1572.4 674.9 L1576.8 675.8 L1581.1 676.9 L1585.5 678.1 L1589.9 679.5 L1594.3 681.0 L1598.7 682.5 L1603.0 684.3 L1607.4 686.1 L1611.8 688.0 L1616.2 690.1 L1620.6 692.3 L1625.0 694.7 L1629.3 697.1 L1633.7 699.7 L1638.1 702.4 L1642.5 705.2" fill="none" stroke="#cf9d9f" stroke-width="6" stroke-linejoin="round"/>
<line x1="1416.6" y1="702.1" x2="1416.6" y2="746.6" stroke="#6f3b3d" stroke-width="5.8"/>
<line x1="1448.1" y1="681.3" x2="1448.1" y2="721.6" stroke="#6f3b3d" stroke-width="5.8"/>
<line x1="1479.6" y1="666.3" x2="1479.6" y2="709.6" stroke="#6f3b3d" stroke-width="5.8"/>
<line x1="1511.4" y1="662.0" x2="1511.4" y2="701.3" stroke="#6f3b3d" stroke-width="5.8"/>
<line x1="1542.9" y1="657.0" x2="1542.9" y2="698.1" stroke="#6f3b3d" stroke-width="5.8"/>
<line x1="1574.5" y1="654.8" x2="1574.5" y2="690.1" stroke="#6f3b3d" stroke-width="5.8"/>
<line x1="1606.0" y1="673.3" x2="1606.0" y2="716.1" stroke="#6f3b3d" stroke-width="5.8"/>
<circle cx="1416.6" cy="720.3" r="8.1" fill="#a35a5a" stroke="#723a3c" stroke-width="4.6"/>
<circle cx="1448.1" cy="697.6" r="8.1" fill="#a35a5a" stroke="#723a3c" stroke-width="4.6"/>
<circle cx="1479.6" cy="683.3" r="8.1" fill="#a35a5a" stroke="#723a3c" stroke-width="4.6"/>
<circle cx="1511.4" cy="677.1" r="8.1" fill="#a35a5a" stroke="#723a3c" stroke-width="4.6"/>
<circle cx="1542.9" cy="673.0" r="8.1" fill="#a35a5a" stroke="#723a3c" stroke-width="4.6"/>
<circle cx="1574.5" cy="668.8" r="8.1" fill="#a35a5a" stroke="#723a3c" stroke-width="4.6"/>
<circle cx="1606.0" cy="690.3" r="8.1" fill="#a35a5a" stroke="#723a3c" stroke-width="4.6"/>
</g>
<rect x="1384.50" y="624.90" width="253.00" height="231.10" fill="none" stroke="#222222" stroke-width="3.6"/>
<line x1="1378.0" y1="624.9" x2="1391.0" y2="624.9" stroke="#222222" stroke-width="3.4" stroke-linecap="round"/>
<text class="s" font-size="24" stroke-width="0.38" transform="translate(1328.64 633.30) scale(1.0550 1)">0.9</text>
<line x1="1378.0" y1="717.4" x2="1391.0" y2="717.4" stroke="#222222" stroke-width="3.4" stroke-linecap="round"/>
<text class="s" font-size="24" stroke-width="0.38" transform="translate(1328.52 725.80) scale(1.0550 1)">0.8</text>
<line x1="1378.0" y1="809.9" x2="1391.0" y2="809.9" stroke="#222222" stroke-width="3.4" stroke-linecap="round"/>
<text class="s" font-size="24" stroke-width="0.38" transform="translate(1328.77 818.30) scale(1.0550 1)">0.7</text>
<line x1="1416.5" y1="849.5" x2="1416.5" y2="862.5" stroke="#222222" stroke-width="3.4" stroke-linecap="round"/>
<text class="s" font-size="24" stroke-width="0.38" transform="translate(1394.68 894.20) scale(1.0550 1)">-0.5</text>
<line x1="1574.2" y1="849.5" x2="1574.2" y2="862.5" stroke="#222222" stroke-width="3.4" stroke-linecap="round"/>
<text class="s" font-size="24" stroke-width="0.38" transform="translate(1556.65 894.20) scale(1.0550 1)">0.0</text>
<text class="m i" font-size="27.3" stroke-width="0.00" transform="translate(1305.50 838.05) rotate(-90) scale(1.0865 1)">P</text>
<text class="m" font-size="18" stroke-width="0.14" transform="translate(1309.80 822.70) rotate(-90) scale(0.9662 1)">00</text>
<text class="s" font-size="24" stroke-width="0.38" transform="translate(1305.50 796.60) rotate(-90) scale(1.0430 1)">after 20 gates</text>
<clipPath id="cp9"><rect x="1830.50" y="624.90" width="252.50" height="231.10"/></clipPath>
<g clip-path="url(#cp9)">
<path d="M1825.5 938.2 L1829.9 920.9 L1834.2 904.2 L1838.6 888.1 L1843.0 872.6 L1847.4 857.6 L1851.8 843.2 L1856.1 829.4 L1860.5 816.1 L1864.9 803.4 L1869.2 791.3 L1873.6 779.7 L1878.0 768.8 L1882.4 758.3 L1886.8 748.5 L1891.1 739.2 L1895.5 730.5 L1899.9 722.3 L1904.2 714.8 L1908.6 707.7 L1913.0 701.3 L1917.4 695.4 L1921.8 690.1 L1926.1 685.4 L1930.5 681.2 L1934.9 677.6 L1939.2 674.6 L1943.6 672.2 L1948.0 670.3 L1952.4 668.9 L1956.8 668.2 L1961.1 668.0 L1965.5 668.4 L1969.9 669.3 L1974.2 670.9 L1978.6 673.0 L1983.0 675.6 L1987.4 678.9 L1991.8 682.6 L1996.1 687.0 L2000.5 691.9 L2004.9 697.5 L2009.2 703.5 L2013.6 710.2 L2018.0 717.4 L2022.4 725.2 L2026.8 733.5 L2031.1 742.4 L2035.5 751.9 L2039.9 762.0 L2044.2 772.6 L2048.6 783.8 L2053.0 795.5 L2057.4 807.9 L2061.8 820.8 L2066.1 834.2 L2070.5 848.3 L2074.9 862.9 L2079.2 878.0 L2083.6 893.8 L2088.0 910.1" fill="none" stroke="#cf9d9f" stroke-width="6" stroke-linejoin="round"/>
<line x1="1862.8" y1="771.9" x2="1862.8" y2="832.6" stroke="#6f3b3d" stroke-width="5.8"/>
<line x1="1894.4" y1="719.4" x2="1894.4" y2="767.4" stroke="#6f3b3d" stroke-width="5.8"/>
<line x1="1926.0" y1="683.5" x2="1926.0" y2="735.2" stroke="#6f3b3d" stroke-width="5.8"/>
<line x1="1957.7" y1="642.6" x2="1957.7" y2="674.8" stroke="#6f3b3d" stroke-width="5.8"/>
<line x1="1989.3" y1="651.3" x2="1989.3" y2="691.4" stroke="#6f3b3d" stroke-width="5.8"/>
<line x1="2020.9" y1="709.5" x2="2020.9" y2="759.2" stroke="#6f3b3d" stroke-width="5.8"/>
<line x1="2052.5" y1="765.4" x2="2052.5" y2="826.1" stroke="#6f3b3d" stroke-width="5.8"/>
<circle cx="1862.8" cy="797.9" r="8.1" fill="#a35a5a" stroke="#723a3c" stroke-width="4.6"/>
<circle cx="1894.4" cy="739.4" r="8.1" fill="#a35a5a" stroke="#723a3c" stroke-width="4.6"/>
<circle cx="1926.0" cy="703.6" r="8.1" fill="#a35a5a" stroke="#723a3c" stroke-width="4.6"/>
<circle cx="1957.7" cy="654.7" r="8.1" fill="#a35a5a" stroke="#723a3c" stroke-width="4.6"/>
<circle cx="1989.3" cy="666.6" r="8.1" fill="#a35a5a" stroke="#723a3c" stroke-width="4.6"/>
<circle cx="2020.9" cy="730.4" r="8.1" fill="#a35a5a" stroke="#723a3c" stroke-width="4.6"/>
<circle cx="2052.5" cy="792.2" r="8.1" fill="#a35a5a" stroke="#723a3c" stroke-width="4.6"/>
</g>
<path d="M1828.5 624.9 H2086 M1830.5 624.9 V856.0 H2086" fill="none" stroke="#222222" stroke-width="3.6" stroke-linecap="butt"/>
<line x1="2084.1" y1="615.2" x2="2084.1" y2="848.8" stroke="#222222" stroke-width="3.5"/>
<line x1="1824.0" y1="624.9" x2="1837.0" y2="624.9" stroke="#222222" stroke-width="3.4" stroke-linecap="round"/>
<text class="s" font-size="24" stroke-width="0.38" transform="translate(1774.64 633.30) scale(1.0550 1)">0.9</text>
<line x1="1824.0" y1="717.4" x2="1837.0" y2="717.4" stroke="#222222" stroke-width="3.4" stroke-linecap="round"/>
<text class="s" font-size="24" stroke-width="0.38" transform="translate(1774.52 725.80) scale(1.0550 1)">0.8</text>
<line x1="1824.0" y1="809.9" x2="1837.0" y2="809.9" stroke="#222222" stroke-width="3.4" stroke-linecap="round"/>
<text class="s" font-size="24" stroke-width="0.38" transform="translate(1774.77 818.30) scale(1.0550 1)">0.7</text>
<line x1="1862.8" y1="849.5" x2="1862.8" y2="862.5" stroke="#222222" stroke-width="3.4" stroke-linecap="round"/>
<text class="s" font-size="24" stroke-width="0.38" transform="translate(1838.16 894.20) scale(1.0550 1)">4.25</text>
<line x1="1941.9" y1="849.5" x2="1941.9" y2="862.5" stroke="#222222" stroke-width="3.4" stroke-linecap="round"/>
<text class="s" font-size="24" stroke-width="0.38" transform="translate(1917.26 894.20) scale(1.0550 1)">4.50</text>
<line x1="2020.9" y1="849.5" x2="2020.9" y2="862.5" stroke="#222222" stroke-width="3.4" stroke-linecap="round"/>
<text class="s" font-size="24" stroke-width="0.38" transform="translate(1996.26 894.20) scale(1.0550 1)">4.75</text>
<text class="m i" font-size="27.3" stroke-width="0.00" transform="translate(1751.50 838.05) rotate(-90) scale(1.0865 1)">P</text>
<text class="m" font-size="18" stroke-width="0.14" transform="translate(1755.80 822.70) rotate(-90) scale(0.9662 1)">00</text>
<text class="s" font-size="24" stroke-width="0.38" transform="translate(1751.50 796.60) rotate(-90) scale(1.0430 1)">after 20 gates</text>
<path d="M295.8 134.2 A185.8 185.8 0 0 1 539.4 129.5" fill="none" stroke="#1a1a1a" stroke-width="2.9"/>
<path d="M548.0 137.1 L529.3 134.6 L537.7 129.2 L540.8 119.7 Z" fill="#1a1a1a"/>
<path d="M727.3 134.2 A185.8 185.8 0 0 1 970.9 129.5" fill="none" stroke="#1a1a1a" stroke-width="2.9"/>
<path d="M979.5 137.1 L960.8 134.6 L969.2 129.2 L972.3 119.7 Z" fill="#1a1a1a"/>
<path d="M1167.9 134.2 A185.8 185.8 0 0 1 1411.5 129.5" fill="none" stroke="#1a1a1a" stroke-width="2.9"/>
<path d="M1420.1 137.1 L1401.4 134.6 L1409.8 129.2 L1412.9 119.7 Z" fill="#1a1a1a"/>
<path d="M1600.3 134.2 A185.8 185.8 0 0 1 1843.9 129.5" fill="none" stroke="#1a1a1a" stroke-width="2.9"/>
<path d="M1852.5 137.1 L1833.8 134.6 L1842.2 129.2 L1845.3 119.7 Z" fill="#1a1a1a"/>
<path d="M295.8 604.6 A185.8 185.8 0 0 1 539.4 599.9" fill="none" stroke="#1a1a1a" stroke-width="2.9"/>
<path d="M548.0 607.5 L529.3 605.0 L537.7 599.6 L540.8 590.1 Z" fill="#1a1a1a"/>
<path d="M722.7 604.6 A185.8 185.8 0 0 1 966.3 599.9" fill="none" stroke="#1a1a1a" stroke-width="2.9"/>
<path d="M974.9 607.5 L956.2 605.0 L964.6 599.6 L967.7 590.1 Z" fill="#1a1a1a"/>
<path d="M1156.3 604.6 A185.8 185.8 0 0 1 1399.9 599.9" fill="none" stroke="#1a1a1a" stroke-width="2.9"/>
<path d="M1408.5 607.5 L1389.8 605.0 L1398.2 599.6 L1401.3 590.1 Z" fill="#1a1a1a"/>
<path d="M1600.3 604.6 A185.8 185.8 0 0 1 1843.9 599.9" fill="none" stroke="#1a1a1a" stroke-width="2.9"/>
<path d="M1852.5 607.5 L1833.8 605.0 L1842.2 599.6 L1845.3 590.1 Z" fill="#1a1a1a"/>
<text class="s b" font-size="34" stroke-width="0.41" transform="translate(-0.94 18.60) scale(0.9181 1)">a</text>
<text class="s b" font-size="34" stroke-width="0.41" transform="translate(-1.13 489.60) scale(1.0076 1)">b</text>
<text class="s" font-size="33" stroke-width="0.53" transform="translate(3.33 66.90) scale(1.0155 1)">Time-optimal</text>
<text class="s" font-size="33" stroke-width="0.53" transform="translate(3.50 535.00) scale(1.0109 1)">Smooth-amplitude</text>
<text class="m i" font-size="36" stroke-width="0.00" transform="translate(326.77 67.20) scale(0.9453 1)">A</text>
<text class="m" font-size="49.5" stroke-width="0.00" transform="translate(350.80 75.50) scale(0.9550 1)">/</text>
<text class="m" font-size="36" stroke-width="0.29" transform="translate(365.44 67.20) scale(0.9028 1)">2</text>
<text class="m i" font-size="36" stroke-width="0.00" transform="translate(382.32 67.20) scale(0.9989 1)">π</text>
<text class="s" font-size="33" stroke-width="0.53" transform="translate(409.93 67.20) scale(1.0133 1)">= 0.113</text>
<text class="m i" font-size="36" stroke-width="0.00" transform="translate(772.15 67.20) scale(1.1768 1)">T</text>
<text class="s" font-size="33" stroke-width="0.53" transform="translate(802.32 67.20) scale(1.0197 1)">= 275 ns</text>
<text class="m i" font-size="36" stroke-width="0.00" transform="translate(1201.84 67.20) scale(0.9171 1)">ω</text>
<text class="m" font-size="49.5" stroke-width="0.00" transform="translate(1225.80 75.50) scale(0.9550 1)">/</text>
<text class="m" font-size="36" stroke-width="0.29" transform="translate(1240.80 67.20) scale(0.9462 1)">Ω</text>
<text class="s" font-size="33" stroke-width="0.53" transform="translate(1273.02 67.20) scale(1.0187 1)">= 1.038</text>
<text class="m i" font-size="36" stroke-width="0.00" transform="translate(1628.47 67.20) scale(0.8642 1)">δ</text>
<text class="m" font-size="21" stroke-width="0.17" transform="translate(1642.56 74.80) scale(0.9977 1)">0</text>
<text class="m" font-size="49.5" stroke-width="0.00" transform="translate(1653.80 75.50) scale(0.9550 1)">/</text>
<text class="m" font-size="36" stroke-width="0.29" transform="translate(1674.08 67.20) scale(0.8984 1)">Ω</text>
<text class="s" font-size="33" stroke-width="0.53" transform="translate(1701.52 67.20) scale(1.0199 1)">= -0.032</text>
<text class="m i" font-size="36" stroke-width="0.00" transform="translate(1919.97 136.60) scale(1.0438 1)">φ</text>
<text class="m" font-size="21" stroke-width="0.17" transform="translate(1940.64 144.00) scale(1.0204 1)">0</text>
<text class="s" font-size="33" stroke-width="0.53" transform="translate(1959.12 136.60) scale(1.0188 1)">= -0.078</text>
<text class="m i" font-size="36" stroke-width="0.00" transform="translate(328.47 536.60) scale(0.8642 1)">δ</text>
<text class="m" font-size="21" stroke-width="0.17" transform="translate(343.16 544.00) scale(0.9977 1)">0</text>
<text class="m" font-size="49.5" stroke-width="0.00" transform="translate(354.90 544.90) scale(0.9550 1)">/</text>
<text class="m" font-size="36" stroke-width="0.29" transform="translate(369.34 536.60) scale(0.9245 1)">Ω</text>
<text class="s" font-size="33" stroke-width="0.53" transform="translate(402.53 536.60) scale(1.0141 1)">= 1.008</text>
<text class="m i" font-size="36" stroke-width="0.00" transform="translate(756.84 533.20) scale(0.9171 1)">ω</text>
<text class="m" font-size="49.5" stroke-width="0.00" transform="translate(780.80 541.50) scale(0.9550 1)">/</text>
<text class="m" font-size="36" stroke-width="0.29" transform="translate(795.80 533.20) scale(0.9462 1)">Ω</text>
<text class="s" font-size="33" stroke-width="0.53" transform="translate(828.01 533.20) scale(1.0265 1)">= 0.957</text>
<text class="m i" font-size="36" stroke-width="0.00" transform="translate(1181.06 529.50) scale(0.9370 1)">A</text>
<text class="m" font-size="49.5" stroke-width="0.00" transform="translate(1205.10 537.80) scale(0.9330 1)">/</text>
<text class="m" font-size="36" stroke-width="0.29" transform="translate(1219.74 529.50) scale(0.9028 1)">2</text>
<text class="m i" font-size="36" stroke-width="0.00" transform="translate(1236.62 529.50) scale(0.9989 1)">π</text>
<text class="s" font-size="33" stroke-width="0.53" transform="translate(1263.72 529.50) scale(1.0171 1)">= -0.225</text>
<text class="m i" font-size="36" stroke-width="0.00" transform="translate(1650.20 529.50) scale(1.0185 1)">α</text>
<text class="s" font-size="33" stroke-width="0.53" transform="translate(1680.22 529.50) scale(1.0173 1)">= -0.113</text>
<text class="m" font-size="36" stroke-width="0.29" transform="translate(1957.11 611.70) scale(0.9375 1)">Ω</text>
<text class="s" font-size="33" stroke-width="0.53" transform="translate(1990.81 611.70) scale(1.0213 1)">= 4.56</text>
<text class="m i" font-size="26.1" stroke-width="0.00" transform="translate(201.76 456.50) scale(0.9493 1)">A</text>
<text class="m" font-size="35.8875" stroke-width="0.00" transform="translate(219.10 462.52) scale(0.9423 1)">/</text>
<text class="m" font-size="26.1" stroke-width="0.21" transform="translate(230.44 456.50) scale(0.9004 1)">2</text>
<text class="m i" font-size="26.1" stroke-width="0.00" transform="translate(242.87 456.50) scale(0.9947 1)">π</text>
<text class="m i" font-size="26.1" stroke-width="0.00" transform="translate(604.98 456.50) scale(1.1912 1)">T</text>
<text class="s" font-size="24" stroke-width="0.38" transform="translate(627.90 456.50) scale(0.9740 1)">(ns)</text>
<text class="m i" font-size="26.1" stroke-width="0.00" transform="translate(1044.37 456.50) scale(0.9122 1)">ω</text>
<text class="m" font-size="35.8875" stroke-width="0.00" transform="translate(1062.30 462.52) scale(0.9525 1)">/</text>
<text class="m" font-size="26.1" stroke-width="0.21" transform="translate(1073.09 456.50) scale(0.9279 1)">Ω</text>
<text class="m i" font-size="26.1" stroke-width="0.00" transform="translate(1487.31 456.50) scale(0.8855 1)">δ</text>
<text class="m" font-size="15.225" stroke-width="0.12" transform="translate(1498.30 461.10) scale(0.8288 1)">0</text>
<text class="m" font-size="35.8875" stroke-width="0.00" transform="translate(1506.20 462.52) scale(0.9525 1)">/</text>
<text class="m" font-size="26.1" stroke-width="0.21" transform="translate(1516.90 456.50) scale(0.9938 1)">Ω</text>
<text class="m i" font-size="26.1" stroke-width="0.00" transform="translate(1944.85 456.50) scale(1.0836 1)">φ</text>
<text class="m" font-size="15.225" stroke-width="0.12" transform="translate(1960.77 460.30) scale(1.0321 1)">0</text>
<text class="m i" font-size="26.1" stroke-width="0.00" transform="translate(208.83 928.40) scale(0.8599 1)">δ</text>
<text class="m" font-size="15.225" stroke-width="0.12" transform="translate(219.31 933.10) scale(0.9696 1)">0</text>
<text class="m" font-size="35.8875" stroke-width="0.00" transform="translate(227.70 934.42) scale(0.9930 1)">/</text>
<text class="m" font-size="26.1" stroke-width="0.21" transform="translate(238.52 928.40) scale(0.9818 1)">Ω</text>
<text class="m i" font-size="26.1" stroke-width="0.00" transform="translate(613.68 928.40) scale(0.9001 1)">ω</text>
<text class="m" font-size="35.8875" stroke-width="0.00" transform="translate(631.70 934.42) scale(0.9423 1)">/</text>
<text class="m" font-size="26.1" stroke-width="0.21" transform="translate(642.08 928.40) scale(0.9339 1)">Ω</text>
<text class="m i" font-size="26.1" stroke-width="0.00" transform="translate(1041.90 928.40) scale(0.9779 1)">A</text>
<text class="m" font-size="35.8875" stroke-width="0.00" transform="translate(1060.00 934.42) scale(0.9727 1)">/</text>
<text class="m" font-size="26.1" stroke-width="0.21" transform="translate(1071.31 928.40) scale(0.9291 1)">2</text>
<text class="m i" font-size="26.1" stroke-width="0.00" transform="translate(1083.97 928.40) scale(0.9800 1)">π</text>
<text class="m i" font-size="26.1" stroke-width="0.00" transform="translate(1503.06 928.70) scale(1.0743 1)">α</text>
<text class="m" font-size="26.1" stroke-width="0.21" transform="translate(1948.72 928.40) scale(0.9818 1)">Ω</text>
</svg>
</body></html>
